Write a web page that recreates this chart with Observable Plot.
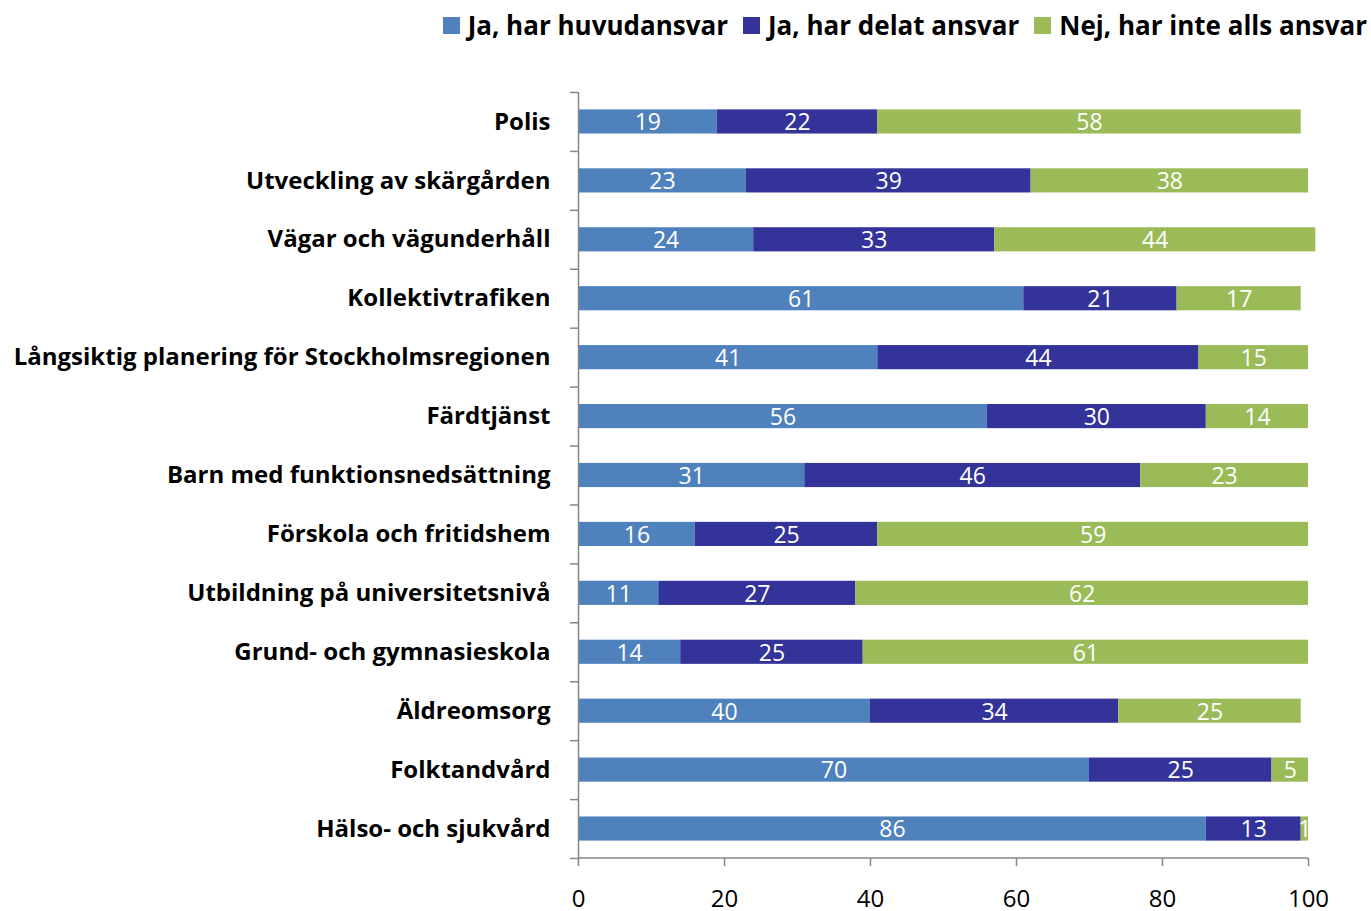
<!DOCTYPE html>
<html><head><meta charset="utf-8">
<script src="https://cdn.jsdelivr.net/npm/d3@7"></script>
<script src="https://cdn.jsdelivr.net/npm/@observablehq/plot@0.6"></script>
<style>
body{margin:0;background:#fff;font-family:"Open Sans",sans-serif;}
#legend{height:50px;display:flex;justify-content:flex-end;align-items:center;padding-right:4px;box-sizing:border-box;font-weight:bold;font-size:26px;color:#000;}
.item{display:flex;align-items:center;margin-left:15px;}
.sw{width:17px;height:17px;margin-right:8px;}
</style></head>
<body>
<div id="legend"></div>
<div id="chart"></div>
<script>
const categories = ["Polis","Utveckling av skärgården","Vägar och vägunderhåll","Kollektivtrafiken","Långsiktig planering för Stockholmsregionen","Färdtjänst","Barn med funktionsnedsättning","Förskola och fritidshem","Utbildning på universitetsnivå","Grund- och gymnasieskola","Äldreomsorg","Folktandvård","Hälso- och sjukvård"];
const seriesNames = ["Ja, har huvudansvar","Ja, har delat ansvar","Nej, har inte alls ansvar"];
const huvudansvar = [19,23,24,61,41,56,31,16,11,14,40,70,86];
const delatAnsvar = [22,39,33,21,44,30,46,25,27,25,34,25,13];
const inteAnsvar = [58,38,44,17,15,14,23,59,62,61,25,5,1];
const xTicks = [0,20,40,60,80,100];
const colors = ["#4F81BD","#333399","#9BBB59"];

const seriesValues = [huvudansvar, delatAnsvar, inteAnsvar];
const data = [];
seriesNames.forEach((s, si) => categories.forEach((c, ci) => data.push({cat: c, series: s, value: seriesValues[si][ci]})));

const W = 1371, H = 861, mT = 42, mB = 53, mL = 578, mR = 63;
const step = (H - mT - mB) / categories.length;
const pad = 0.59;
const axisColor = "#868686";

const legend = document.getElementById("legend");
seriesNames.forEach((s, i) => {
  const it = document.createElement("div"); it.className = "item";
  const sw = document.createElement("div"); sw.className = "sw"; sw.style.background = colors[i];
  const t = document.createElement("span"); t.textContent = s;
  it.append(sw, t); legend.append(it);
});

const bottomLine = (index, scales, values, dims) => {
  const g = d3.create("svg:line")
    .attr("x1", dims.marginLeft).attr("x2", dims.width - dims.marginRight)
    .attr("y1", dims.height - dims.marginBottom).attr("y2", dims.height - dims.marginBottom)
    .attr("stroke", axisColor).attr("stroke-width", 1.5);
  return g.node();
};

const chart = Plot.plot({
  width: W, height: H, marginTop: mT, marginBottom: mB, marginLeft: mL, marginRight: mR,
  style: {fontFamily: "'Open Sans', sans-serif", fontSize: "22px", background: "white", overflow: "visible"},
  x: {domain: [0, 100], label: null},
  y: {domain: categories, paddingInner: pad, paddingOuter: pad / 2, round: false, label: null},
  color: {domain: seriesNames, range: colors},
  marks: [
    Plot.barX(data, Plot.stackX({x: "value", y: "cat", z: "series", fill: "series", order: null})),
    Plot.text(data, Plot.stackX({x: "value", y: "cat", z: "series", text: d => String(d.value), order: null, fill: "white", fontSize: 23, dy: 1})),
    Plot.ruleX([0], {stroke: axisColor, strokeWidth: 1.5}),
    bottomLine,
    Plot.axisY({tickSize: 0, tickPadding: 28, fontSize: 24, fontWeight: "bold", fill: "black", label: null}),
    Plot.axisY({tickSize: 8, tickFormat: () => "", dy: -step / 2, stroke: axisColor, strokeWidth: 1.5, label: null}),
    Plot.axisY({ticks: [categories[categories.length - 1]], tickSize: 8, tickFormat: () => "", dy: step / 2, stroke: axisColor, strokeWidth: 1.5, label: null}),
    Plot.axisX({ticks: xTicks, tickSize: 8, tickPadding: 23, fontSize: 24, stroke: axisColor, strokeWidth: 1.5, fill: "black", label: null})
  ]
});
document.getElementById("chart").append(chart);
</script>
</body></html>
